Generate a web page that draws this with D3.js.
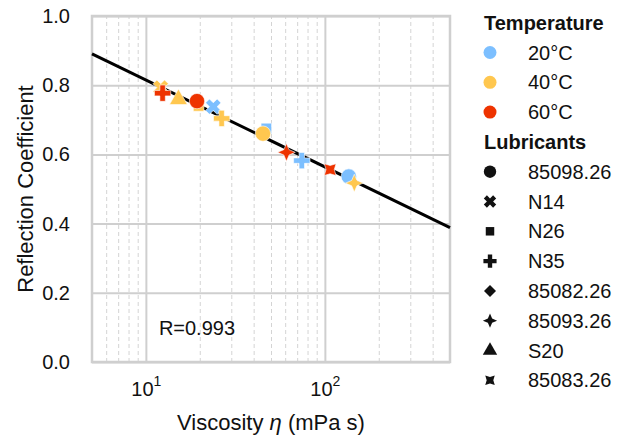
<!DOCTYPE html>
<html>
<head>
<meta charset="utf-8">
<script src="https://cdn.jsdelivr.net/npm/d3@7"></script>
<style>
  html, body { margin: 0; padding: 0; background: #fff; }
  svg { display: block; font-family: "Liberation Sans", Arial, sans-serif; }
</style>
</head>
<body>
<svg id="chart" width="629" height="439"></svg>
<script>
// --- data ---
const temps = ['20°C', '40°C', '60°C'];
const lubricants = ['85098.26', 'N14', 'N26', 'N35', '85082.26', '85093.26', 'S20', '85083.26'];

// measured points (temperature index, lubricant name, viscosity mPa s, reflection coefficient)
const pointTemp  = [0, 0, 0, 0, 1, 1, 1, 1, 1, 1, 2, 2, 2, 2];
const pointLub   = ['N14', 'N26', 'N35', '85098.26', 'N14', 'S20', 'N26', 'N35', '85098.26', '85093.26', 'N35', '85098.26', '85093.26', '85083.26'];
const viscosity  = [23.8, 47.1, 74.3, 136, 12.1, 15.2, 19.7, 26.5, 45.1, 146, 12.4, 19.3, 61.0, 107];
const reflection = [0.738, 0.675, 0.582, 0.536, 0.793, 0.759, 0.740, 0.704, 0.660, 0.517, 0.777, 0.754, 0.606, 0.556];

// log fit: R = a + b*log10(eta)
const fitA = 1.066, fitB = -0.251;
const fitLabel = 'R=0.993';

const xDomain = [5, 500];
const xMajor = [10, 100];
const xMinor = [6, 7, 8, 9, 20, 30, 40, 50, 60, 70, 80, 90, 200, 300, 400];
const yTicks = [0, 0.2, 0.4, 0.6, 0.8, 1.0];

const tempColors = ['#7cbfff', '#ffc74f', '#ee3300'];

// --- layout ---
const svg = d3.select('#chart');
const M = { left: 92, top: 16 };
const W = 358, H = 346;
const g = svg.append('g').attr('transform', `translate(${M.left},${M.top})`);

const x = d3.scaleLog().domain(xDomain).range([0, W]);
const y = d3.scaleLinear().domain([0, 1]).range([H, 0]);

// minor x grid (dashed)
g.append('g')
  .attr('transform', `translate(0,${H})`)
  .call(d3.axisBottom(x).tickValues(xMinor).tickSize(-H).tickFormat(''))
  .call(a => a.select('.domain').remove())
  .call(a => a.selectAll('line').attr('stroke', '#d4d4d4').attr('stroke-width', 1).attr('stroke-dasharray', '4,3'));

// major x grid
g.append('g')
  .attr('transform', `translate(0,${H})`)
  .call(d3.axisBottom(x).tickValues(xMajor).tickSize(-H).tickFormat(''))
  .call(a => a.select('.domain').remove())
  .call(a => a.selectAll('line').attr('stroke', '#cfcfcf').attr('stroke-width', 2));

// y grid + labels
g.append('g')
  .call(d3.axisLeft(y).tickValues(yTicks).tickSize(-W).tickPadding(22).tickFormat(d3.format('.1f')))
  .call(a => a.select('.domain').remove())
  .call(a => a.selectAll('line').attr('stroke', '#cfcfcf').attr('stroke-width', 2))
  .call(a => a.selectAll('text').attr('font-size', 20).attr('fill', '#111')
    .attr('font-family', '"Liberation Sans", Arial, sans-serif'));

// x tick labels with superscripts
const xl = g.append('g')
  .attr('transform', `translate(0,${H})`)
  .call(d3.axisBottom(x).tickValues(xMajor).tickSize(0).tickPadding(20).tickFormat(''))
  .call(a => a.select('.domain').remove());
xl.selectAll('.tick text').each(function (d) {
  const t = d3.select(this).attr('font-size', 20).attr('fill', '#111')
    .attr('font-family', '"Liberation Sans", Arial, sans-serif');
  t.append('tspan').text('10');
  t.append('tspan').attr('font-size', 14).attr('dy', -10).text(Math.round(Math.log10(d)));
});

// border
g.append('rect').attr('width', W).attr('height', H)
  .attr('fill', 'none').attr('stroke', '#cfcfcf').attr('stroke-width', 2.5);

// fit line
g.append('path')
  .datum(xDomain)
  .attr('d', d3.line().x(d => x(d)).y(d => y(fitA + fitB * Math.log10(d))))
  .attr('stroke', '#000').attr('stroke-width', 3).attr('fill', 'none');

// --- marker shapes ---
const star4 = {
  draw(ctx, size) {
    const r = Math.sqrt(size) * 0.75, k = r * 0.3;
    ctx.moveTo(0, -r); ctx.lineTo(k, -k); ctx.lineTo(r, 0); ctx.lineTo(k, k);
    ctx.lineTo(0, r); ctx.lineTo(-k, k); ctx.lineTo(-r, 0); ctx.lineTo(-k, -k); ctx.closePath();
  }
};
const concaveSq = {
  draw(ctx, size) {
    const r = Math.sqrt(size) * 0.5, k = r * 0.7;
    ctx.moveTo(-r, -r); ctx.lineTo(0, -k); ctx.lineTo(r, -r); ctx.lineTo(k, 0);
    ctx.lineTo(r, r); ctx.lineTo(0, k); ctx.lineTo(-r, r); ctx.lineTo(-k, 0); ctx.closePath();
  }
};
const shapeOf = {
  '85098.26': { type: d3.symbolCircle, size: 1.0, rot: 0 },
  'N14': { type: d3.symbolCross, size: 0.8, rot: 45 },
  'N26': { type: d3.symbolSquare, size: 0.6, rot: 0 },
  'N35': { type: d3.symbolCross, size: 0.8, rot: 0 },
  '85082.26': { type: d3.symbolSquare, size: 0.6, rot: 45 },
  '85093.26': { type: star4, size: 0.75, rot: 0 },
  'S20': { type: d3.symbolTriangle, size: 0.75, rot: 0 },
  '85083.26': { type: concaveSq, size: 0.75, rot: 0 }
};
const symPath = (lub, base) => d3.symbol().type(shapeOf[lub].type).size(base * shapeOf[lub].size)();

// points
const pts = viscosity.map((v, i) => ({ v, r: reflection[i], t: pointTemp[i], lub: pointLub[i] }));
g.selectAll('.pt')
  .data(pts)
  .join('path')
  .attr('class', 'pt')
  .attr('d', d => symPath(d.lub, 185))
  .attr('transform', d => `translate(${x(d.v)},${y(d.r)}) rotate(${shapeOf[d.lub].rot})`)
  .attr('fill', d => tempColors[d.t])
  .attr('stroke', '#fff').attr('stroke-width', 0.6);

// R label
g.append('text')
  .attr('x', x(10) + 13).attr('y', y(0.1) + 8)
  .attr('font-size', 20).attr('fill', '#111')
  .text(fitLabel);

// axis titles
svg.append('text')
  .attr('x', M.left + W / 2).attr('y', 430)
  .attr('text-anchor', 'middle').attr('font-size', 22).attr('fill', '#111')
  .call(t => {
    t.append('tspan').text('Viscosity ');
    t.append('tspan').attr('font-style', 'italic').text('η');
    t.append('tspan').text(' (mPa s)');
  });

svg.append('text')
  .attr('transform', `translate(33,${M.top + H / 2}) rotate(-90)`)
  .attr('text-anchor', 'middle').attr('font-size', 22).attr('fill', '#111')
  .text('Reflection Coefficient');

// --- legend ---
const lg = svg.append('g');
const rowH = 29.8, ly0 = 22.7, mx = 490, tx = 528;
let row = 0;
const rowY = () => ly0 + rowH * row;

lg.append('text').attr('x', 484).attr('y', rowY() + 7)
  .attr('font-size', 20).attr('font-weight', 'bold').attr('fill', '#111').text('Temperature');
row++;
temps.forEach((t, i) => {
  lg.append('circle').attr('cx', mx).attr('cy', rowY()).attr('r', 6.5).attr('fill', tempColors[i]);
  lg.append('text').attr('x', tx).attr('y', rowY() + 7).attr('font-size', 20).attr('fill', '#111').text(t);
  row++;
});
lg.append('text').attr('x', 484).attr('y', rowY() + 7)
  .attr('font-size', 20).attr('font-weight', 'bold').attr('fill', '#111').text('Lubricants');
row++;
lubricants.forEach(l => {
  lg.append('path').attr('d', symPath(l, 120))
    .attr('transform', `translate(${mx},${rowY()}) rotate(${shapeOf[l].rot})`)
    .attr('fill', '#111');
  lg.append('text').attr('x', tx).attr('y', rowY() + 7).attr('font-size', 20).attr('fill', '#111').text(l);
  row++;
});
</script>
</body>
</html>
